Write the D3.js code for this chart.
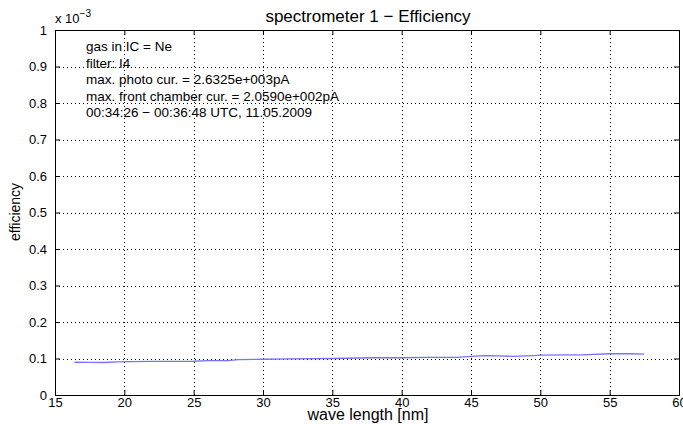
<!DOCTYPE html>
<html><head><meta charset="utf-8">
<script src="https://cdn.jsdelivr.net/npm/d3@7"></script>
<style>body{margin:0;background:#fff}svg{display:block}text{font-family:"Liberation Sans",Arial,sans-serif}</style>
</head><body><svg id="c" width="683" height="424"></svg>
<script>
const wavelength = [16.4, 17.5, 18.5, 19.5, 20.5, 22, 23.5, 25, 26, 27.5, 28.2, 30, 32, 35, 38, 40, 42, 44, 45, 46, 47, 48, 49.5, 50, 52, 53, 55, 56.5, 57.5];
const efficiency = [0.0897, 0.0893, 0.089, 0.091, 0.0917, 0.092, 0.092, 0.0925, 0.094, 0.094, 0.097, 0.098, 0.099, 0.100, 0.102, 0.102, 0.103, 0.103, 0.106, 0.108, 0.107, 0.106, 0.108, 0.109, 0.110, 0.110, 0.113, 0.113, 0.112];
const xTicks = [15,20,25,30,35,40,45,50,55,60];
const yTicks = [0,0.1,0.2,0.3,0.4,0.5,0.6,0.7,0.8,0.9,1];
const annotations = ["gas in IC = Ne","filter: I4","max. photo cur. = 2.6325e+003pA","max. front chamber cur. = 2.0590e+002pA","00:34:26 − 00:36:48 UTC, 11.05.2009"];
const title = "spectrometer 1 − Efficiency";

const svg = d3.select("#c");
const L=55, R=679, T=30, B=395;
const x = d3.scaleLinear().domain([15,60]).range([L,R]);
const y = d3.scaleLinear().domain([0,1]).range([B,T]);

// grid
const g = svg.append("g");
g.selectAll(".gx").data(xTicks.filter(d=>d>15&&d<60)).join("line")
 .attr("x1",d=>Math.round(x(d))+0.5).attr("x2",d=>Math.round(x(d))+0.5).attr("y1",T).attr("y2",B)
 .attr("stroke","#000").attr("stroke-width",1).attr("stroke-dasharray","1,3");
g.selectAll(".gy").data(yTicks.filter(d=>d>0&&d<1)).join("line")
 .attr("y1",d=>Math.round(y(d))+0.5).attr("y2",d=>Math.round(y(d))+0.5).attr("x1",L).attr("x2",R)
 .attr("stroke","#000").attr("stroke-width",1).attr("stroke-dasharray","1,3");

// data line
svg.append("path").datum(wavelength.map((w,i)=>[w,efficiency[i]]))
 .attr("fill","none").attr("stroke","#7474ff").attr("stroke-width",1.3)
 .attr("d",d3.line().x(d=>x(d[0])).y(d=>y(d[1])));

// axes
const fmt = d=> d===0?"0":(d===1?"1":String(d));
const xa = svg.append("g").attr("transform",`translate(0,${B})`)
 .call(d3.axisBottom(x).tickValues(xTicks).tickSize(-5).tickPadding(3).tickFormat(d3.format("d")));
const xa2 = svg.append("g").attr("transform",`translate(0,${T})`)
 .call(d3.axisTop(x).tickValues(xTicks).tickSize(-5).tickFormat(""));
const ya = svg.append("g").attr("transform",`translate(${L},0)`)
 .call(d3.axisLeft(y).tickValues(yTicks).tickSize(-5).tickPadding(4).tickFormat(fmt));
const ya2 = svg.append("g").attr("transform",`translate(${R},0)`)
 .call(d3.axisRight(y).tickValues(yTicks).tickSize(-5).tickFormat(""));
[xa,xa2,ya,ya2].forEach(a=>{
  a.selectAll("path.domain").attr("stroke","#000").attr("stroke-width",1);
  a.selectAll(".tick line").attr("stroke","#000");
  a.selectAll("text").attr("font-size",13).attr("fill","#000").attr("font-family","Liberation Sans, Arial, sans-serif");
});
ya.selectAll("text").attr("dx",-4);

// title & labels
svg.append("text").attr("x",368).attr("y",22).attr("text-anchor","middle").attr("font-size",17).text(title);
svg.append("text").attr("x",368).attr("y",420).attr("text-anchor","middle").attr("font-size",16).text("wave length [nm]");
svg.append("text").attr("transform","translate(20,212) rotate(-90)").attr("text-anchor","middle").attr("font-size",14).text("efficiency");
const ex = svg.append("text").attr("x",55).attr("y",23).attr("font-size",13);
ex.append("tspan").text("x 10");
ex.append("tspan").attr("dy",-6).attr("font-size",10).text("−3");

// annotations
svg.selectAll(".ann").data(annotations).join("text")
 .attr("x",86).attr("y",(d,i)=>51+i*16.5).attr("font-size",13.5).text(d=>d);
</script></body></html>
